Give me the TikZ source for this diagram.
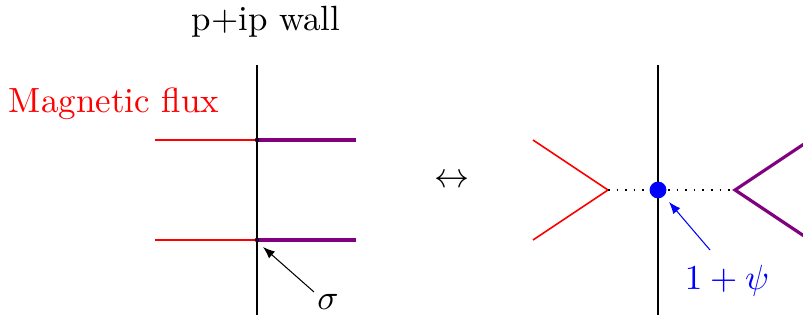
\documentclass[tikz,border=0pt]{standalone}
\usetikzlibrary{arrows.meta}
\definecolor{fluxpurple}{RGB}{128,0,128}
\tikzset{
  wall/.style={black, line width=0.6pt},
  redflux/.style={red, line width=0.45pt},
  purpleflux/.style={fluxpurple, line width=0.9pt},
  pointer/.style={-{Latex[length=3.4pt,width=2.6pt]}, line width=0.3pt},
}
\begin{document}
\begin{tikzpicture}[x=0.2857pt,y=-0.2857pt]
\clip (0,0) rectangle (803,320);
\useasboundingbox (0,0) rectangle (803,320);
% ---------- left picture ----------
\coordinate (LWt) at (257,65);
\coordinate (LWb) at (257,315);
\coordinate (J1) at (257,140);
\coordinate (J2) at (257,240);
\coordinate (R1) at (155,140);
\coordinate (R2) at (155,240);
\coordinate (P1) at (356,140);
\coordinate (P2) at (356,240);
\draw[redflux] (R1) -- (J1);
\draw[redflux] (R2) -- (J2);
\draw[purpleflux] (J1) -- (P1);
\draw[purpleflux] (J2) -- (P2);
\draw[wall] (LWt) -- (LWb);
\fill[black!80!fluxpurple] (J1) circle (0.65pt);
\fill[black!80!fluxpurple] (J2) circle (0.65pt);
\node (title) at (266,22) {p+ip wall};
\node[red] (flux) at (114,104) {Magnetic flux};
\node (sigma) at (328,302) {$\sigma$};
\coordinate (sigstart) at (314,292);
\coordinate (sigtip) at (263,247);
\draw[pointer] (sigstart) -- (sigtip);
% ---------- arrow between ----------
\node (equiv) at (452,181) {$\leftrightarrow$};
% ---------- right picture ----------
\coordinate (RWt) at (658,65);
\coordinate (RWb) at (658,315);
\coordinate (D) at (658,190);
\coordinate (RV) at (608,190);
\coordinate (RVa) at (533,140);
\coordinate (RVb) at (533,240);
\coordinate (PV) at (735,190);
\coordinate (PVa) at (810,140);
\coordinate (PVb) at (810,240);
\draw[redflux] (RVa) -- (RV) -- (RVb);
\draw[purpleflux] (PVa) -- (PV) -- (PVb);
\draw[black, line width=0.45pt, dotted] (RV) -- (PV);
\draw[wall] (RWt) -- (RWb);
\fill[blue] (D) circle (2.4pt);
\node[blue] (psi) at (727,281) {$1+\psi$};
\coordinate (psistart) at (710,250);
\coordinate (psitip) at (669,202);
\draw[pointer, blue] (psistart) -- (psitip);
\end{tikzpicture}
\end{document}
